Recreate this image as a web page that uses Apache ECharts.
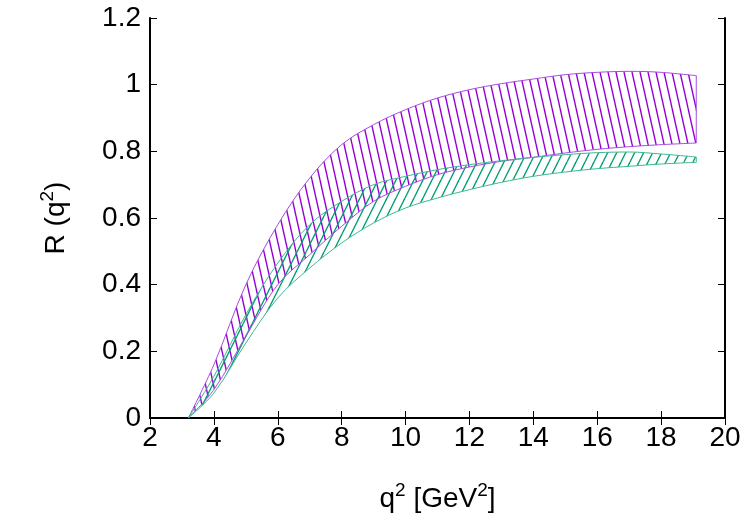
<!DOCTYPE html>
<html>
<head>
<meta charset="utf-8">
<script src="https://cdn.jsdelivr.net/npm/echarts@6/dist/echarts.min.js"></script>
<style>
html, body { margin: 0; padding: 0; background: #fff; }
#chart { width: 750px; height: 525px; }
</style>
</head>
<body>
<div id="chart"></div>
<script>
// q^2 sample points [GeV^2]
var q2 = [3.2, 4, 5, 6, 7, 8, 9, 10, 11, 12, 13, 14, 15, 16, 17, 18, 19.1];
// purple band
var purpleLow  = [0, 0.085, 0.245, 0.40, 0.49, 0.575, 0.65, 0.695, 0.73, 0.753, 0.77, 0.782, 0.795, 0.806, 0.814, 0.82, 0.825];
var purpleHigh = [0, 0.16, 0.40, 0.58, 0.72, 0.82, 0.88, 0.925, 0.96, 0.985, 1.003, 1.017, 1.03, 1.037, 1.04, 1.037, 1.027];
// green band
var greenLow  = [0, 0.075, 0.225, 0.36, 0.45, 0.525, 0.585, 0.63, 0.66, 0.685, 0.707, 0.725, 0.738, 0.748, 0.755, 0.762, 0.767];
var greenHigh = [0, 0.125, 0.31, 0.465, 0.58, 0.65, 0.70, 0.725, 0.745, 0.76, 0.772, 0.782, 0.79, 0.796, 0.798, 0.792, 0.783];

var FONT = 'Liberation Sans';

// hatch tile, dir 1 = "\" , -1 = "/"
function makeHatch(color, w, h, dir, lw) {
    var c = document.createElement('canvas');
    c.width = w;
    c.height = h;
    var ctx = c.getContext('2d');
    ctx.strokeStyle = color;
    ctx.lineWidth = lw;
    for (var k = -1; k <= 1; k++) {
        ctx.beginPath();
        if (dir > 0) {
            ctx.moveTo(k * w, 0);
            ctx.lineTo(k * w + w, h);
        } else {
            ctx.moveTo(k * w, h);
            ctx.lineTo(k * w + w, 0);
        }
        ctx.stroke();
    }
    return { image: c, repeat: 'repeat' };
}

// y value is put first so that the stack works on the y dimension
function bandSeries(id, low, high, edge, pattern) {
    var n = q2.length;
    return [{
        type: 'line',
        stack: id,
        smooth: 0.35,
        symbol: 'none',
        encode: { x: 1, y: 0 },
        lineStyle: { color: edge, width: 1 },
        data: q2.map(function(x, i) { return [low[i], x]; })
    }, {
        type: 'line',
        stack: id,
        smooth: 0.35,
        symbol: 'none',
        encode: { x: 1, y: 0 },
        lineStyle: { color: edge, width: 1 },
        areaStyle: { color: pattern, opacity: 1 },
        data: q2.map(function(x, i) { return [high[i] - low[i], x]; })
    }, {
        type: 'line',
        symbol: 'none',
        lineStyle: { color: edge, width: 1 },
        data: [[q2[n - 1], low[n - 1]], [q2[n - 1], high[n - 1]]]
    }];
}

var purplePattern = makeHatch('#9400d3', 8, 36, 1, 1.4);
var greenPattern = makeHatch('#009e73', 9, 18, -1, 1.4);

var nameRich = {
    b: { fontFamily: FONT, fontSize: 28, color: '#000', lineHeight: 32, verticalAlign: 'bottom' },
    s: { fontFamily: FONT, fontSize: 19, color: '#000', lineHeight: 32, verticalAlign: 'bottom', padding: [0, 0, 13, 0] }
};

var axisCommon = {
    axisLine: { show: true, lineStyle: { color: '#000', width: 2 } },
    axisTick: { show: true, inside: true, length: 7, lineStyle: { color: '#000', width: 1 } },
    splitLine: { show: false }
};

var chart = echarts.init(document.getElementById('chart'));
chart.setOption({
    animation: false,
    backgroundColor: '#fff',
    grid: { left: 150, right: 25, top: 18, bottom: 107 },
    xAxis: [
        echarts.util.merge({
            type: 'value', min: 2, max: 20, interval: 2, position: 'bottom',
            axisLabel: { color: '#000', fontFamily: FONT, fontSize: 28, margin: 6 },
            name: '{b|q}{s|2}{b| [GeV}{s|2}{b|]}',
            nameLocation: 'middle',
            nameGap: 63,
            nameTextStyle: { rich: nameRich }
        }, axisCommon, true),
        echarts.util.merge({
            type: 'value', min: 2, max: 20, interval: 2, position: 'top',
            axisLabel: { show: false }
        }, axisCommon, true)
    ],
    yAxis: [
        echarts.util.merge({
            type: 'value', min: 0, max: 1.2, interval: 0.2, position: 'left',
            axisLabel: { color: '#000', fontFamily: FONT, fontSize: 28, margin: 9 },
            name: '{b|R (q}{s|2}{b|)}',
            nameLocation: 'middle',
            nameGap: 80,
            nameTextStyle: { rich: nameRich }
        }, axisCommon, true),
        echarts.util.merge({
            type: 'value', min: 0, max: 1.2, interval: 0.2, position: 'right',
            axisLabel: { show: false }
        }, axisCommon, true)
    ],
    series: bandSeries('purple', purpleLow, purpleHigh, '#a64de0', purplePattern)
        .concat(bandSeries('green', greenLow, greenHigh, '#3db893', greenPattern))
});
</script>
</body>
</html>
